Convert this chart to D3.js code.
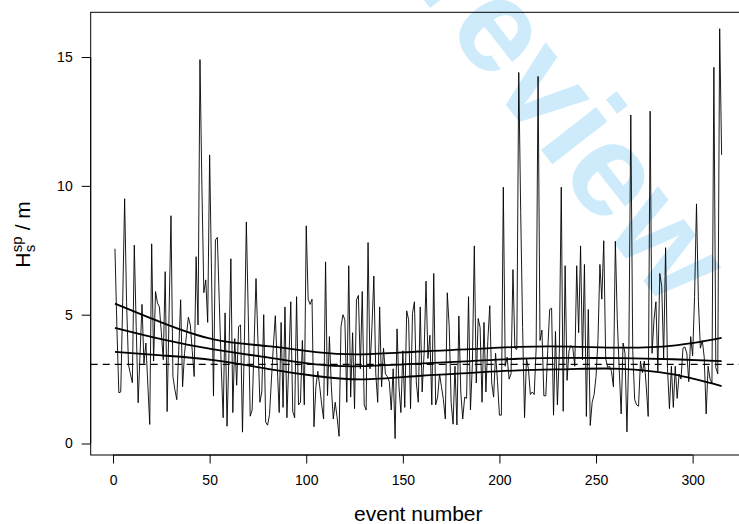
<!DOCTYPE html>
<html>
<head>
<meta charset="utf-8">
<script src="https://cdn.jsdelivr.net/npm/d3@7"></script>
<style>
  html, body { margin: 0; padding: 0; background: #fff; }
  svg { display: block; font-family: "Liberation Sans", Arial, sans-serif; }
</style>
</head>
<body>
<svg id="chart" width="739" height="524"></svg>
<script>
// significant wave height per event
const hs = [
  7.56, 4.5, 1.97, 2.0, 5.5, 9.5, 5.5, 3.06, 2.7, 2.36,
  7.7, 4.5, 1.58, 3.5, 5.4, 3.1, 3.9, 2.3, 0.74, 7.75,
  3.2, 5.9, 5.45, 5.3, 4.3, 3.25, 6.67, 1.24, 5.0, 8.84,
  2.6, 2.1, 1.7, 3.6, 5.58, 2.2, 3.5, 4.2, 4.9, 4.6,
  3.6, 2.6, 7.25, 4.6, 14.9, 10.0, 5.85, 6.35, 4.7, 11.2,
  6.5, 1.84, 7.9, 8.0, 5.5, 3.0, 1.0, 5.07, 0.67, 3.5,
  7.17, 1.2, 4.07, 2.26, 4.54, 4.6, 0.44, 4.0, 8.6, 5.0,
  1.06, 1.3, 3.8, 6.4, 4.0, 1.6, 2.0, 5.0, 0.83, 0.71,
  1.12, 2.5, 3.8, 4.96, 3.0, 1.2, 4.7, 1.4, 5.3, 1.0,
  3.2, 5.5, 1.25, 1.0, 5.7, 1.5, 1.6, 4.0, 1.5, 8.45,
  5.6, 5.4, 5.6, 0.65, 2.2, 2.8, 2.2, 1.5, 0.95, 7.05,
  1.86, 4.15, 2.2, 0.95, 1.6, 1.0, 0.28, 4.54, 5.0, 4.8,
  1.6, 6.9, 1.8, 4.3, 1.35, 5.57, 5.75, 2.9, 5.9, 1.5,
  1.3, 7.8, 2.9, 4.5, 6.5, 2.7, 1.6, 5.3, 2.2, 3.7,
  2.7, 2.6, 2.4, 1.3, 2.9, 0.19, 4.45, 2.2, 1.2, 3.6,
  1.4, 5.15, 4.8, 1.35, 5.05, 5.5, 2.35, 1.6, 5.3, 2.0,
  3.5, 6.3, 3.3, 4.2, 1.5, 6.6, 1.5, 1.8, 2.7, 2.2,
  1.7, 0.95, 5.85, 4.55, 1.6, 0.75, 3.0, 0.72, 4.95, 2.0,
  0.95, 1.8, 1.75, 5.7, 1.3, 3.1, 7.67, 2.35, 4.85, 4.5,
  1.6, 4.7, 2.0, 4.0, 5.35, 2.35, 1.8, 3.5, 2.4, 1.1,
  1.1, 9.95, 3.0, 3.35, 2.5, 2.7, 6.75, 3.7, 3.65, 14.4,
  9.0, 4.5, 1.0, 3.3, 2.9, 1.9, 2.0, 1.9, 3.7, 14.25,
  4.0, 4.4, 1.85, 1.85, 3.6, 5.2, 5.25, 1.1, 4.35, 1.5,
  3.5, 9.95, 1.25, 6.9, 2.45, 3.6, 3.8, 3.7, 3.0, 6.9,
  4.3, 7.67, 3.25, 6.95, 1.05, 5.2, 0.7, 1.6, 1.9, 2.6,
  4.0, 6.95, 5.6, 7.87, 3.3, 2.95, 3.0, 2.8, 2.2, 7.85,
  4.8, 2.9, 1.15, 3.9, 3.5, 0.45, 3.7, 12.75, 3.6, 1.7,
  1.5, 1.45, 3.2, 2.75, 3.2, 2.2, 1.05, 12.9, 3.5, 4.8,
  5.5, 2.8, 6.6, 6.1, 3.3, 7.6, 2.9, 1.35, 3.0, 1.4,
  3.0, 1.75, 2.7, 2.5, 3.7, 3.75, 3.5, 2.4, 4.15, 3.4,
  5.7, 9.3, 5.5, 3.7, 4.0, 3.35, 1.15, 3.0, 2.5, 2.35,
  14.6, 2.95, 2.7, 16.1, 11.2
];

// smooth trend and its band, sampled at a few event numbers
const knotEvents = [1, 25, 52, 80, 105, 129, 158, 185, 210, 237, 263, 290, 315];
const trendUpper = [5.43, 4.70, 4.04, 3.78, 3.55, 3.46, 3.57, 3.66, 3.75, 3.76, 3.72, 3.80, 4.10];
const trendMid   = [4.49, 4.05, 3.65, 3.34, 3.07, 3.00, 3.10, 3.20, 3.29, 3.32, 3.31, 3.27, 3.20];
const trendLower = [3.56, 3.42, 3.24, 2.90, 2.62, 2.49, 2.62, 2.74, 2.84, 2.89, 2.90, 2.68, 2.23];

const meanLevel = 3.07;

const xTicks = [0, 50, 100, 150, 200, 250, 300];
const yTicks = [0, 5, 10, 15];

const svg = d3.select("#chart");

const box = { left: 90.7, top: 12.3, bottom: 455 };
const n = hs.length;
// R style 4% padding of the data range
const xPad = 0.04 * (n - 1);
const xScale = d3.scaleLinear()
  .domain([1 - xPad, n + xPad])
  .range([box.left, box.left + 1.932 * (n - 1 + 2 * xPad)]);
const [yMin, yMax] = d3.extent(hs);
const yPad = 0.04 * (yMax - yMin);
const yScale = d3.scaleLinear()
  .domain([yMin - yPad, yMax + yPad])
  .range([box.bottom, box.top]);

const plotRight = xScale.range()[1];

// watermark behind everything; place it so the first "e" sits where it does in the original
const wmAngle = 52;
const wm = svg.append("text")
  .attr("font-size", 132)
  .attr("font-weight", "bold")
  .attr("fill", "#cdebfb")
  .text("Preview");
const prefix = wm.node().getSubStringLength(0, 2);
const rad = (wmAngle * Math.PI) / 180;
const eStart = [445, 27];
wm.attr("transform",
  `translate(${eStart[0] - prefix * Math.cos(rad)},${eStart[1] - prefix * Math.sin(rad)}) rotate(${wmAngle})`);

svg.append("clipPath")
  .attr("id", "plot-clip")
  .append("rect")
  .attr("x", box.left)
  .attr("y", box.top)
  .attr("width", plotRight - box.left)
  .attr("height", box.bottom - box.top);

const plot = svg.append("g").attr("clip-path", "url(#plot-clip)");

const seriesLine = d3.line()
  .x((d, i) => xScale(i + 1))
  .y((d) => yScale(d));

plot.append("path")
  .datum(hs)
  .attr("fill", "none")
  .attr("stroke", "#000")
  .attr("stroke-width", 0.9)
  .attr("d", seriesLine);

plot.append("line")
  .attr("x1", box.left)
  .attr("x2", plotRight)
  .attr("y1", yScale(meanLevel))
  .attr("y2", yScale(meanLevel))
  .attr("stroke", "#000")
  .attr("stroke-width", 1.3)
  .attr("stroke-dasharray", "7,5");

const trendLine = d3.line()
  .x((d, i) => xScale(knotEvents[i]))
  .y((d) => yScale(d))
  .curve(d3.curveNatural);

[trendUpper, trendMid, trendLower].forEach((curve) => {
  plot.append("path")
    .datum(curve)
    .attr("fill", "none")
    .attr("stroke", "#000")
    .attr("stroke-width", 1.8)
    .attr("d", trendLine);
});

// plot frame
svg.append("rect")
  .attr("x", box.left)
  .attr("y", box.top)
  .attr("width", plotRight - box.left)
  .attr("height", box.bottom - box.top)
  .attr("fill", "none")
  .attr("stroke", "#000")
  .attr("stroke-width", 1);

const xAxis = svg.append("g")
  .attr("transform", `translate(0,${box.bottom})`)
  .call(d3.axisBottom(xScale).tickValues(xTicks).tickSize(8.5).tickPadding(12).tickSizeOuter(0));
xAxis.select(".domain").attr("d", `M${xScale(0)},0H${xScale(300)}`);

const yAxis = svg.append("g")
  .attr("transform", `translate(${box.left},0)`)
  .call(d3.axisLeft(yScale).tickValues(yTicks).tickSize(9).tickPadding(9).tickSizeOuter(0));
yAxis.select(".domain").attr("d", `M0,${yScale(0)}V${yScale(15)}`);

svg.selectAll(".tick text")
  .attr("font-size", 14)
  .attr("font-family", "Liberation Sans, Arial, sans-serif")
  .attr("fill", "#000");
svg.selectAll(".tick line, .domain").attr("stroke", "#000");

svg.append("text")
  .attr("x", (box.left + plotRight) / 2)
  .attr("y", 521)
  .attr("text-anchor", "middle")
  .attr("font-size", 21)
  .text("event number");

// y title: H with stacked sub/superscript
const yTitle = svg.append("g")
  .attr("transform", `translate(30,${(box.top + box.bottom) / 2}) rotate(-90)`)
  .attr("font-size", 21);
yTitle.append("text").attr("x", -34).attr("y", 0).text("H");
yTitle.append("text").attr("x", -18.6).attr("y", -8).attr("font-size", 15).text("sp");
yTitle.append("text").attr("x", -18.6).attr("y", 5).attr("font-size", 15).text("s");
yTitle.append("text").attr("x", -2.5).attr("y", 0).attr("xml:space", "preserve").text(" / m");
</script>
</body>
</html>
